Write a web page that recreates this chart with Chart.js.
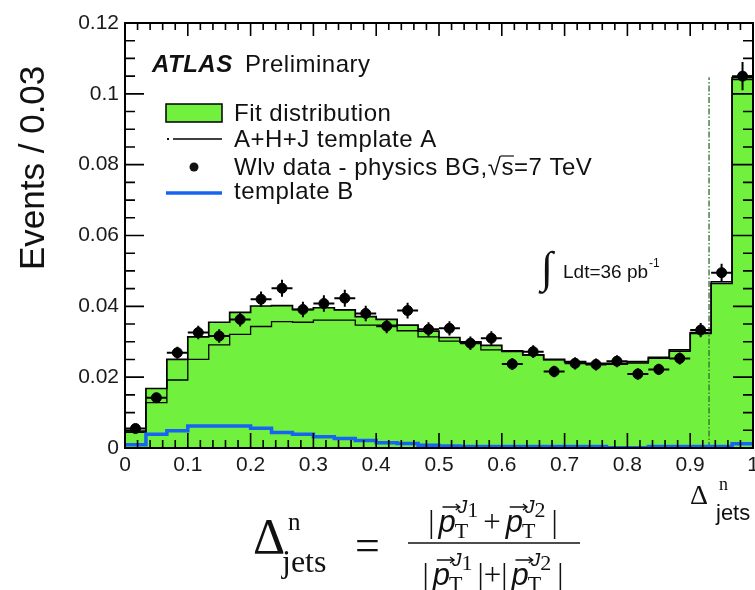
<!DOCTYPE html>
<html>
<head>
<meta charset="utf-8">
<script src="https://cdn.jsdelivr.net/npm/chart.js@4.4.1/dist/chart.umd.min.js"></script>
<style>
  html, body { margin: 0; padding: 0; background: #fff; overflow: hidden; }
  #wrap { width: 790px; height: 590px; }
</style>
</head>
<body>
<div id="wrap"><canvas id="myChart" width="790" height="590"></canvas></div>
<script>
// 30 bins of equal width between 0 and 1
const nBins = 30;
const binEdges = Array.from({ length: nBins + 1 }, (_, i) => i / nBins);
const binCenters = binEdges.slice(0, nBins).map((e, i) => (e + binEdges[i + 1]) / 2);

// values
const fitValues = [0.0045, 0.0168, 0.0250, 0.0314, 0.0355, 0.0383, 0.0401, 0.0402, 0.0391, 0.0396,
  0.0390, 0.0371, 0.0363, 0.0347, 0.0330, 0.0312, 0.0300, 0.0290, 0.0274, 0.0263,
  0.0250, 0.0244, 0.0239, 0.0239, 0.0244, 0.0256, 0.0277, 0.0326, 0.0465, 0.1046];
const templateA = [0.0048, 0.0128, 0.0192, 0.0250, 0.0291, 0.0321, 0.0343, 0.0357, 0.0355, 0.0361,
  0.0361, 0.0347, 0.0347, 0.0331, 0.0314, 0.0302, 0.0298, 0.0277, 0.0272, 0.0262,
  0.0249, 0.0243, 0.0238, 0.0236, 0.0240, 0.0253, 0.0273, 0.0323, 0.0470, 0.1040];
const templateB = [0.0009, 0.0039, 0.0049, 0.0062, 0.0062, 0.0062, 0.0056, 0.0044, 0.0039, 0.0032,
  0.0027, 0.0021, 0.0015, 0.0013, 0.0008, 0.0006, 0.0004, 0.0004, 0.0004, 0.0004,
  0.0004, 0.0004, 0.0004, 0.0001, 0.0001, 0.0004, 0.0004, 0.0004, 0.0004, 0.0012];
const dataValues = [0.0055, 0.0142, 0.0269, 0.0326, 0.0316, 0.0363, 0.0420, 0.0451, 0.0391, 0.0408,
  0.0423, 0.0380, 0.0344, 0.0388, 0.0335, 0.0338, 0.0296, 0.0310, 0.0237, 0.0272,
  0.0216, 0.0239, 0.0236, 0.0245, 0.0209, 0.0222, 0.0253, 0.0333, 0.0495, 0.1050];
const dataErrors = [0.0008, 0.0012, 0.0017, 0.0019, 0.0019, 0.0020, 0.0022, 0.0024, 0.0022, 0.0023,
  0.0024, 0.0022, 0.0020, 0.0022, 0.0020, 0.0020, 0.0019, 0.0020, 0.0017, 0.0018,
  0.0016, 0.0017, 0.0017, 0.0017, 0.0016, 0.0016, 0.0017, 0.0020, 0.0025, 0.0040];
const markerX = 0.93;
const markerTop = 0.1047;

const xTicks = [0, 0.1, 0.2, 0.3, 0.4, 0.5, 0.6, 0.7, 0.8, 0.9, 1];
const yTicks = [0, 0.02, 0.04, 0.06, 0.08, 0.1, 0.12];

const SANS = '"Liberation Sans", Arial, sans-serif';
const SERIF = '"Liberation Serif", "Times New Roman", serif';
const GREEN = '#72f03e';
const BLUE = '#1764f2';

const stepPoints = (vals) =>
  vals.map((v, i) => ({ x: binEdges[i], y: v })).concat({ x: binEdges[nBins], y: vals[nBins - 1] });

// p-vector term used in the formula; returns the width
const pTerm = (ctx, x, y, idx, draw) => {
  ctx.font = 'italic 31px ' + SANS;
  const pw = ctx.measureText('p').width;
  if (draw) {
    ctx.fillText('p', x, y);
    ctx.beginPath();
    ctx.moveTo(x + 4, y - 25); ctx.lineTo(x + pw + 4, y - 25);
    ctx.moveTo(x + pw, y - 28); ctx.lineTo(x + pw + 4, y - 25); ctx.lineTo(x + pw, y - 22);
    ctx.stroke();
  }
  ctx.font = '22px ' + SERIF;
  const tw = ctx.measureText('T').width;
  if (draw) ctx.fillText('T', x + pw - 1, y + 6);
  ctx.font = 'italic 19px ' + SANS;
  const jw = ctx.measureText('J').width;
  if (draw) ctx.fillText('J', x + pw + 2, y - 19);
  ctx.font = '22px ' + SERIF;
  const iw = ctx.measureText(idx).width;
  if (draw) ctx.fillText(idx, x + pw + 2 + jw, y - 15);
  return pw + Math.max(tw, jw + iw + 2);
};

const layoutRow = (ctx, x, y, parts, draw) => {
  let cx = x;
  parts.forEach(p => {
    if (typeof p === 'number') {
      cx += p;
    } else if (p.p) {
      cx += pTerm(ctx, cx, y, p.p, draw);
    } else {
      ctx.font = '31px ' + SERIF;
      if (draw) ctx.fillText(p, cx, y);
      cx += ctx.measureText(p).width;
    }
  });
  return cx - x;
};

const decorations = {
  id: 'decorations',
  afterDatasetsDraw(chart) {
    const { ctx, chartArea: a, scales: { x, y } } = chart;
    ctx.save();
    // error bars on the data points
    ctx.strokeStyle = '#000';
    ctx.lineWidth = 2;
    dataValues.forEach((v, i) => {
      const cx = x.getPixelForValue(binCenters[i]);
      const cy = y.getPixelForValue(v);
      ctx.beginPath();
      ctx.moveTo(x.getPixelForValue(binEdges[i]), cy);
      ctx.lineTo(x.getPixelForValue(binEdges[i + 1]), cy);
      ctx.moveTo(cx, y.getPixelForValue(v - dataErrors[i]));
      ctx.lineTo(cx, y.getPixelForValue(v + dataErrors[i]));
      ctx.stroke();
    });
    // frame and inward ticks
    ctx.lineWidth = 1.6;
    ctx.beginPath();
    for (let i = 0; i <= 50; i++) {
      const px = x.getPixelForValue(i * 0.02);
      const major = i % 5 === 0;
      ctx.moveTo(px, a.bottom); ctx.lineTo(px, a.bottom - (major ? 15 : 8));
      ctx.moveTo(px, a.top); ctx.lineTo(px, a.top + (major ? 13 : 7));
    }
    for (let i = 0; i <= 24; i++) {
      const py = y.getPixelForValue(i * 0.005);
      const major = i % 4 === 0;
      ctx.moveTo(a.left, py); ctx.lineTo(a.left + (major ? 19 : 10), py);
      ctx.moveTo(a.right, py); ctx.lineTo(a.right - (major ? 20 : 10), py);
    }
    ctx.stroke();
    ctx.lineWidth = 2;
    ctx.strokeRect(a.left, a.top, a.right - a.left, a.bottom - a.top);
    ctx.restore();
  },
  afterDraw(chart) {
    const { ctx } = chart;
    ctx.save();
    ctx.fillStyle = '#111';
    ctx.strokeStyle = '#111';
    ctx.textBaseline = 'alphabetic';
    ctx.textAlign = 'left';

    // y axis title
    ctx.save();
    ctx.translate(44, 270);
    ctx.rotate(-Math.PI / 2);
    ctx.font = '35px ' + SANS;
    ctx.fillText('Events / 0.03', 0, 0);
    ctx.restore();

    // ATLAS label
    ctx.letterSpacing = '0.5px';
    ctx.font = 'italic bold 24px ' + SANS;
    ctx.fillText('ATLAS', 152, 72);
    ctx.font = '24px ' + SANS;
    ctx.fillText('Preliminary', 245, 72);

    // legend
    ctx.fillStyle = GREEN;
    ctx.fillRect(166, 104, 56, 18);
    ctx.lineWidth = 1.5;
    ctx.strokeStyle = '#000';
    ctx.strokeRect(166, 104, 56, 18);
    ctx.fillStyle = '#111';
    ctx.beginPath();
    ctx.moveTo(173, 139); ctx.lineTo(222, 139);
    ctx.stroke();
    ctx.fillRect(167, 138, 2, 2);
    ctx.beginPath();
    ctx.arc(194, 167, 4.5, 0, Math.PI * 2);
    ctx.fill();
    ctx.strokeStyle = BLUE;
    ctx.lineWidth = 3.5;
    ctx.beginPath();
    ctx.moveTo(166, 193); ctx.lineTo(222, 193);
    ctx.stroke();
    ctx.font = '24px ' + SANS;
    ctx.fillText('Fit distribution', 234, 121);
    ctx.fillText('A+H+J template A', 234, 147);
    const wl = 'Wlν data - physics BG,';
    ctx.fillText(wl, 234, 175);
    const sx = 234 + ctx.measureText(wl).width;
    ctx.fillText('√s=7 TeV', sx, 175);
    const rw = ctx.measureText('√').width;
    const sw = ctx.measureText('s').width;
    ctx.strokeStyle = '#111';
    ctx.lineWidth = 1.2;
    ctx.beginPath();
    ctx.moveTo(sx + rw - 1, 156); ctx.lineTo(sx + rw + sw, 156);
    ctx.stroke();
    ctx.fillText('template B', 234, 199);
    ctx.letterSpacing = '0px';

    // luminosity
    ctx.font = '44px ' + SERIF;
    ctx.fillText('∫', 541, 282);
    ctx.font = '19px ' + SANS;
    ctx.fillText('Ldt=36 pb', 563, 278);
    const lw = ctx.measureText('Ldt=36 pb').width;
    ctx.font = '12px ' + SANS;
    ctx.fillText('-1', 563 + lw + 1, 267);

    // x axis title, right-hand symbol
    ctx.font = '28px ' + SERIF;
    ctx.fillText('Δ', 690, 504);
    ctx.font = '18px ' + SERIF;
    ctx.fillText('n', 719, 490);
    ctx.font = '22px ' + SANS;
    ctx.fillText('jets', 716, 520);

    // definition formula
    ctx.font = '50px ' + SERIF;
    ctx.fillText('Δ', 253, 553);
    ctx.font = '25px ' + SERIF;
    ctx.fillText('n', 288, 530);
    ctx.font = '32px ' + SERIF;
    ctx.fillText('jets', 282, 572);
    ctx.font = '44px ' + SERIF;
    ctx.fillText('=', 355, 560);

    ctx.lineWidth = 1.4;
    const num = ['|', 4, { p: '1' }, 5, '+', 5, { p: '2' }, 6, '|'];
    const den = ['|', 4, { p: '1' }, 5, '|+|', 4, { p: '2' }, 6, '|'];
    const mid = 493;
    const nw = layoutRow(ctx, 0, 0, num, false);
    layoutRow(ctx, mid - nw / 2, 532, num, true);
    const dw = layoutRow(ctx, 0, 0, den, false);
    layoutRow(ctx, mid - dw / 2, 585, den, true);
    ctx.beginPath();
    ctx.moveTo(408, 543); ctx.lineTo(580, 543);
    ctx.stroke();
    ctx.restore();
  }
};

new Chart('myChart', {
  type: 'line',
  data: {
    datasets: [
      {
        label: 'Wlν data - physics BG',
        data: dataValues.map((v, i) => ({ x: binCenters[i], y: v })),
        showLine: false,
        pointRadius: 5,
        pointBackgroundColor: '#000',
        pointBorderColor: '#000',
        order: 0
      },
      {
        label: 'template B',
        data: stepPoints(templateB),
        stepped: 'before',
        borderColor: BLUE,
        borderWidth: 3.5,
        pointRadius: 0,
        fill: false,
        order: 1
      },
      {
        label: 'marker',
        data: [{ x: markerX, y: 0 }, { x: markerX, y: markerTop }],
        borderColor: '#2f6d2f',
        borderWidth: 1.3,
        borderDash: [6, 2, 1.5, 2],
        pointRadius: 0,
        fill: false,
        order: 2
      },
      {
        label: 'A+H+J template A',
        data: stepPoints(templateA),
        stepped: 'before',
        borderColor: '#000',
        borderWidth: 1.3,
        pointRadius: 0,
        fill: false,
        order: 3
      },
      {
        label: 'Fit distribution',
        data: stepPoints(fitValues),
        stepped: 'before',
        borderColor: '#000',
        borderWidth: 1.7,
        backgroundColor: GREEN,
        pointRadius: 0,
        fill: 'origin',
        order: 4
      }
    ]
  },
  options: {
    responsive: false,
    animation: false,
    devicePixelRatio: 1,
    layout: { padding: { left: 0, right: 37, top: 23, bottom: 0 } },
    plugins: { legend: { display: false }, tooltip: { enabled: false } },
    scales: {
      x: {
        type: 'linear',
        min: 0,
        max: 1,
        afterBuildTicks: (s) => { s.ticks = xTicks.map(v => ({ value: v })); },
        afterFit: (s) => { s.height = 142; },
        ticks: {
          callback: (v) => String(+v.toFixed(2)),
          font: { family: SANS, size: 21 },
          color: '#1a1a1a',
          padding: 5,
          maxRotation: 0,
          autoSkip: false
        },
        grid: { display: false, drawTicks: false },
        border: { display: false }
      },
      y: {
        min: 0,
        max: 0.12,
        afterBuildTicks: (s) => { s.ticks = yTicks.map(v => ({ value: v })); },
        afterFit: (s) => { s.width = 125; },
        ticks: {
          callback: (v) => String(+v.toFixed(3)),
          font: { family: SANS, size: 21 },
          color: '#1a1a1a',
          padding: 6
        },
        grid: { display: false, drawTicks: false },
        border: { display: false }
      }
    }
  },
  plugins: [decorations]
});
</script>
</body>
</html>
